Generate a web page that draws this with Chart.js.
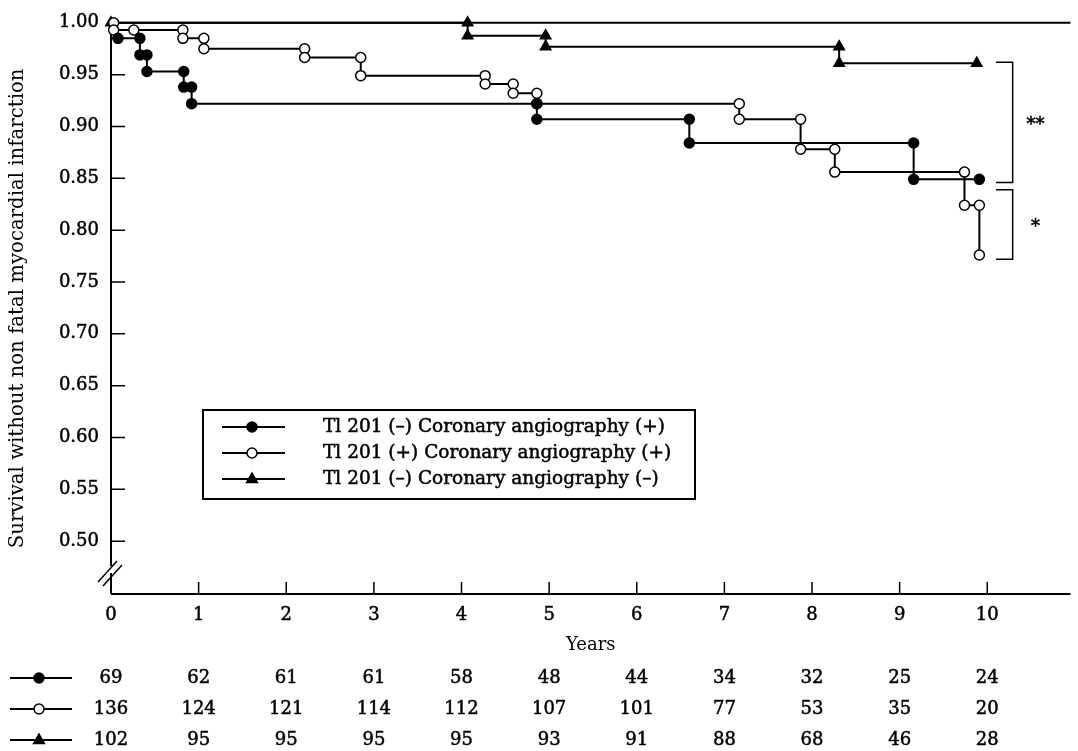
<!DOCTYPE html>
<html>
<head>
<meta charset="utf-8">
<script src="https://cdn.jsdelivr.net/npm/chart.js@4.4.0/dist/chart.umd.min.js"></script>
<style>
  html, body { margin: 0; padding: 0; background: #fff; }
  #wrap { width: 1078px; height: 751px; position: relative; }
</style>
</head>
<body>
<div id="wrap"><canvas id="grafica"></canvas></div>
<script>
// Datos
const xTicks = [0, 1, 2, 3, 4, 5, 6, 7, 8, 9, 10];
const yTicks = [0.50, 0.55, 0.60, 0.65, 0.70, 0.75, 0.80, 0.85, 0.90, 0.95, 1.00];

const etiquetas = [
  'Tl 201 (–) Coronary angiography (+)',
  'Tl 201 (+) Coronary angiography (+)',
  'Tl 201 (–) Coronary angiography (–)'
];

// Tl 201 (–) / angio (+) : puntos rellenos
const rellenoAnios = [0, 0.08, 0.33, 0.33, 0.41, 0.41, 0.83, 0.83, 0.92, 0.92, 4.86, 4.86, 6.60, 6.60, 9.16, 9.16, 9.91];
const rellenoSurv  = [0.985, 0.985, 0.985, 0.969, 0.969, 0.953, 0.953, 0.938, 0.938, 0.922, 0.922, 0.907, 0.907, 0.884, 0.884, 0.849, 0.849];

// Tl 201 (+) / angio (+) : puntos vacíos
const vacioAnios = [0, 0.03, 0.03, 0.26, 0.82, 0.82, 1.06, 1.06, 2.21, 2.21, 2.85, 2.85, 4.27, 4.27, 4.59, 4.59, 4.86, 4.86, 7.17, 7.17, 7.87, 7.87, 8.26, 8.26, 9.74, 9.74, 9.91, 9.91];
const vacioSurv  = [1.0, 1.0, 0.993, 0.993, 0.993, 0.985, 0.985, 0.975, 0.975, 0.9665, 0.9665, 0.949, 0.949, 0.941, 0.941, 0.932, 0.932, 0.922, 0.922, 0.907, 0.907, 0.878, 0.878, 0.856, 0.856, 0.824, 0.824, 0.776];

// Tl 201 (–) / angio (–) : triángulos
const trianguloAnios = [0, 4.07, 4.07, 4.96, 4.96, 8.31, 8.31, 9.88];
const trianguloSurv  = [1.0, 1.0, 0.9875, 0.9875, 0.977, 0.977, 0.961, 0.961];

// Pacientes en riesgo (tabla inferior)
const riesgoRelleno   = [69, 62, 61, 61, 58, 48, 44, 34, 32, 25, 24];
const riesgoVacio     = [136, 124, 121, 114, 112, 107, 101, 77, 53, 35, 20];
const riesgoTriangulo = [102, 95, 95, 95, 95, 93, 91, 88, 68, 46, 28];

// Significación (corchetes a la derecha)
const corcheteArriba = [0.962, 0.839];
const corcheteAbajo  = [0.846, 0.772];
const corcheteTexto  = ['**', '*'];

const FUENTE = "'DejaVu Serif', serif";

function puntos(xs, ys) {
  return xs.map((x, i) => ({ x, y: ys[i] }));
}

// texto algo más grueso, como la impresión original
function texto(ctx, t, x, y) {
  ctx.fillText(t, x, y);
  ctx.save();
  ctx.lineWidth = 0.5;
  ctx.strokeText(t, x, y);
  ctx.restore();
}

// dibuja un marcador con el mismo estilo que la serie
function marcador(ctx, tipo, x, y) {
  ctx.save();
  ctx.lineWidth = 1.5;
  ctx.strokeStyle = '#000';
  ctx.beginPath();
  if (tipo === 'triangle') {
    const r = 6;
    ctx.moveTo(x, y - r);
    ctx.lineTo(x + r * 0.9, y + r * 0.6);
    ctx.lineTo(x - r * 0.9, y + r * 0.6);
    ctx.closePath();
    ctx.fillStyle = '#000';
  } else {
    ctx.arc(x, y, 5, 0, Math.PI * 2);
    ctx.fillStyle = tipo === 'open' ? '#fff' : '#000';
  }
  ctx.fill();
  ctx.stroke();
  ctx.restore();
}

const tipos = ['filled', 'open', 'triangle'];

const ejes = {
  id: 'ejes',
  beforeDatasetsDraw(chart) {
    const { ctx, chartArea: a, scales: { x, y } } = chart;
    ctx.save();
    ctx.strokeStyle = '#000';
    ctx.lineWidth = 2;
    // eje y con corte
    ctx.beginPath();
    ctx.moveTo(a.left, a.top);
    ctx.lineTo(a.left, 566);
    ctx.moveTo(a.left, 573);
    ctx.lineTo(a.left, a.bottom);
    // eje x
    ctx.moveTo(a.left, a.bottom);
    ctx.lineTo(a.right, a.bottom);
    // línea superior en 1.00
    ctx.moveTo(a.left, y.getPixelForValue(1));
    ctx.lineTo(a.right, y.getPixelForValue(1));
    ctx.stroke();
    // marca de corte //
    ctx.lineWidth = 1.5;
    ctx.beginPath();
    ctx.moveTo(98, 582); ctx.lineTo(117, 561);
    ctx.moveTo(103, 586); ctx.lineTo(122, 565);
    ctx.stroke();
    // ticks hacia dentro
    ctx.beginPath();
    yTicks.forEach(v => {
      const py = y.getPixelForValue(v);
      ctx.moveTo(a.left, py);
      ctx.lineTo(a.left + 14, py);
    });
    xTicks.forEach(v => {
      const px = x.getPixelForValue(v);
      ctx.moveTo(px, a.bottom);
      ctx.lineTo(px, a.bottom - 12);
    });
    ctx.stroke();
    ctx.restore();
  },
  afterDraw(chart) {
    const { ctx, scales: { x, y } } = chart;
    ctx.save();
    ctx.fillStyle = '#000';
    ctx.strokeStyle = '#000';
    ctx.textBaseline = 'middle';

    // leyenda
    ctx.font = '18.5px ' + FUENTE;
    const lx = 203, ltop = 410, lbottom = 499, lright = 695;
    ctx.lineWidth = 2;
    ctx.strokeRect(lx, ltop, lright - lx, lbottom - ltop);
    const filas = [427, 453, 479];
    etiquetas.forEach((t, i) => {
      ctx.lineWidth = 2;
      ctx.beginPath();
      ctx.moveTo(222, filas[i]);
      ctx.lineTo(285, filas[i]);
      ctx.stroke();
      marcador(ctx, tipos[i], 252, filas[i]);
      ctx.textAlign = 'left';
      texto(ctx, t, 323, filas[i]);
    });

    // corchetes
    ctx.font = '18px ' + FUENTE;
    ctx.lineWidth = 1.5;
    corcheteArriba.forEach((v, i) => {
      const y1 = y.getPixelForValue(v), y2 = y.getPixelForValue(corcheteAbajo[i]);
      const x1 = x.getPixelForValue(10.10), x2 = x.getPixelForValue(10.29);
      ctx.beginPath();
      ctx.moveTo(x1, y1); ctx.lineTo(x2, y1); ctx.lineTo(x2, y2); ctx.lineTo(x1, y2);
      ctx.stroke();
      ctx.textAlign = 'center';
      texto(ctx, corcheteTexto[i], x.getPixelForValue(10.55), (y1 + y2) / 2 + 3);
    });

    // tabla de pacientes en riesgo
    const tabla = [riesgoRelleno, riesgoVacio, riesgoTriangulo];
    const filasTabla = [678, 709, 740];
    tabla.forEach((fila, i) => {
      const py = filasTabla[i];
      ctx.lineWidth = 2;
      ctx.beginPath();
      ctx.moveTo(10, py);
      ctx.lineTo(72, py);
      ctx.stroke();
      marcador(ctx, tipos[i], 39, py);
      ctx.textAlign = 'center';
      fila.forEach((n, j) => texto(ctx, String(n), x.getPixelForValue(xTicks[j]), py));
    });
    ctx.restore();
  }
};

function serie(xs, ys, tipo) {
  return {
    data: puntos(xs, ys),
    borderColor: '#000',
    borderWidth: 2,
    backgroundColor: tipo === 'open' ? '#fff' : '#000',
    pointBorderColor: '#000',
    pointBorderWidth: 1.5,
    pointStyle: tipo === 'triangle' ? 'triangle' : 'circle',
    pointRadius: ctx => (ctx.dataIndex === 0 && tipo !== 'triangle') ? 0 : (tipo === 'triangle' ? 6 : 5),
    tension: 0,
    clip: false
  };
}

const fuenteTicks = { family: FUENTE, size: 18 };

new Chart(document.getElementById('grafica'), {
  type: 'line',
  data: {
    datasets: [
      serie(rellenoAnios, rellenoSurv, 'filled'),
      serie(vacioAnios, vacioSurv, 'open'),
      serie(trianguloAnios, trianguloSurv, 'triangle')
    ]
  },
  options: {
    responsive: true,
    maintainAspectRatio: false,
    devicePixelRatio: 1,
    animation: false,
    layout: { padding: { top: 19, right: 0, bottom: 0, left: 0 } },
    plugins: { legend: { display: false }, tooltip: { enabled: false } },
    scales: {
      x: {
        type: 'linear',
        min: 0,
        max: 10.95,
        afterFit: s => { s.height = 157; },
        afterBuildTicks: s => { s.ticks = xTicks.map(v => ({ value: v })); },
        grid: { display: false, drawTicks: false },
        border: { display: false },
        ticks: { padding: 11, color: '#000', font: fuenteTicks, maxRotation: 0, textStrokeColor: '#000', textStrokeWidth: 0.5 },
        title: { display: true, text: 'Years', color: '#000', font: { family: FUENTE, size: 18 }, padding: { top: 0, bottom: 95 } }
      },
      y: {
        min: 0.449,
        max: 1.0,
        afterFit: s => { s.width = 111; },
        afterBuildTicks: s => { s.ticks = yTicks.map(v => ({ value: v })); },
        grid: { display: false, drawTicks: false },
        border: { display: false },
        ticks: { padding: 12, color: '#000', font: fuenteTicks, callback: v => v.toFixed(2), textStrokeColor: '#000', textStrokeWidth: 0.5 },
        title: { display: true, text: 'Survival without non fatal myocardial infarction', color: '#000', font: { family: FUENTE, size: 19.7 }, padding: { top: 6, bottom: 0 } }
      }
    }
  },
  plugins: [ejes]
});
</script>
</body>
</html>
